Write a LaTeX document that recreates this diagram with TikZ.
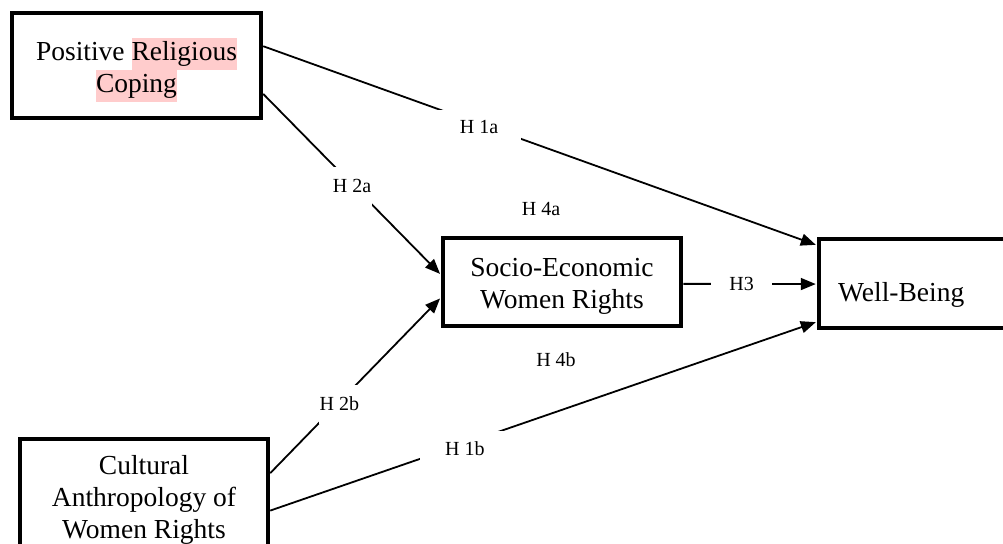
\documentclass[tikz,border=0pt]{standalone}
\usepackage{fontspec}
\setmainfont{Liberation Serif}
\usetikzlibrary{arrows.meta,calc}
\definecolor{hlpink}{RGB}{255,204,204}
\newcommand\hlmark[1]{{\fboxsep=0pt\colorbox{hlpink}{\strut #1}}}
\begin{document}
\begin{tikzpicture}[x=1pt,y=-1pt,
  box/.style={draw, line width=4.5pt, inner sep=0pt, align=center,
    font=\fontsize{27.5}{32}\selectfont},
  conn/.style={line width=1.8pt},
  arr/.style={conn, -{Triangle[length=15pt,width=12pt]}, shorten >=1pt},
  lbl/.style={fill=white, inner sep=0pt, font=\fontsize{20}{24}\selectfont},
  flbl/.style={inner sep=0pt, font=\fontsize{20}{24}\selectfont}]
\useasboundingbox (0,0) rectangle (1003,543);
\clip (0,0) rectangle (1003,543);
% boxes
\node[box, minimum width=249pt, minimum height=105pt] (prc) at (136.5,65.5)
  {\rule{0pt}{31pt}Positive \hlmark{Religious}\\\hlmark{Coping}};
\node[box, minimum width=238pt, minimum height=88pt] (sewr) at (562,282)
  {\rule{0pt}{27pt}Socio-Economic\\Women Rights};
\node[box, minimum width=243pt, minimum height=89pt] (wb) at (940.5,283.5) {};
\node[anchor=west, inner sep=0pt, font=\fontsize{27.5}{32}\selectfont] (wbt) at (838,295) {Well-Being};
\node[box, minimum width=248pt, minimum height=114pt] (cawr) at (144,496)
  {\rule{0pt}{27pt}Cultural\\Anthropology of\\Women Rights};
% connection points
\coordinate (p1) at ($(prc.north east)!0.324!(prc.south east)$);
\coordinate (p2) at ($(prc.north east)!0.76!(prc.south east)$);
\coordinate (c1) at ($(cawr.north east)!0.307!(cawr.south east)$);
\coordinate (c2) at ($(cawr.north east)!0.623!(cawr.south east)$);
\coordinate (s1) at ($(sewr.north west)!0.42!(sewr.south west)$);
\coordinate (s2) at ($(sewr.north west)!0.67!(sewr.south west)$);
\coordinate (s3) at ($(sewr.north east)!0.52!(sewr.south east)$);
\coordinate (w1) at ($(wb.north west)!0.09!(wb.south west)$);
\coordinate (w2) at ($(wb.north west)!0.506!(wb.south west)$);
\coordinate (w3) at ($(wb.north west)!0.91!(wb.south west)$);
% connectors
\draw[arr] (p1) -- node[lbl, pos=0.39, yshift=-3pt, inner xsep=23pt, inner ysep=10pt] (h1a) {H 1a} (w1);
\draw[arr] (p2) -- node[lbl, pos=0.5, yshift=-2pt, inner xsep=1pt, inner ysep=12.5pt] (h2a) {H 2a} (s1);
\draw[arr] (c1) -- node[lbl, pos=0.405, yshift=-2pt, inner xsep=1pt, inner ysep=12.5pt] (h2b) {H 2b} (s2);
\draw[arr] (c2) -- node[lbl, pos=0.356, yshift=-5pt, inner xsep=25pt, inner ysep=10pt] (h1b) {H 1b} (w3);
\draw[arr] (s3) -- node[lbl, pos=0.437, inner xsep=18pt, inner ysep=4pt] (h3) {H3} (w2);
% free labels
\node[flbl] (h4a) at (541,209) {H 4a};
\node[flbl] (h4b) at (556,360) {H 4b};
\end{tikzpicture}
\end{document}
